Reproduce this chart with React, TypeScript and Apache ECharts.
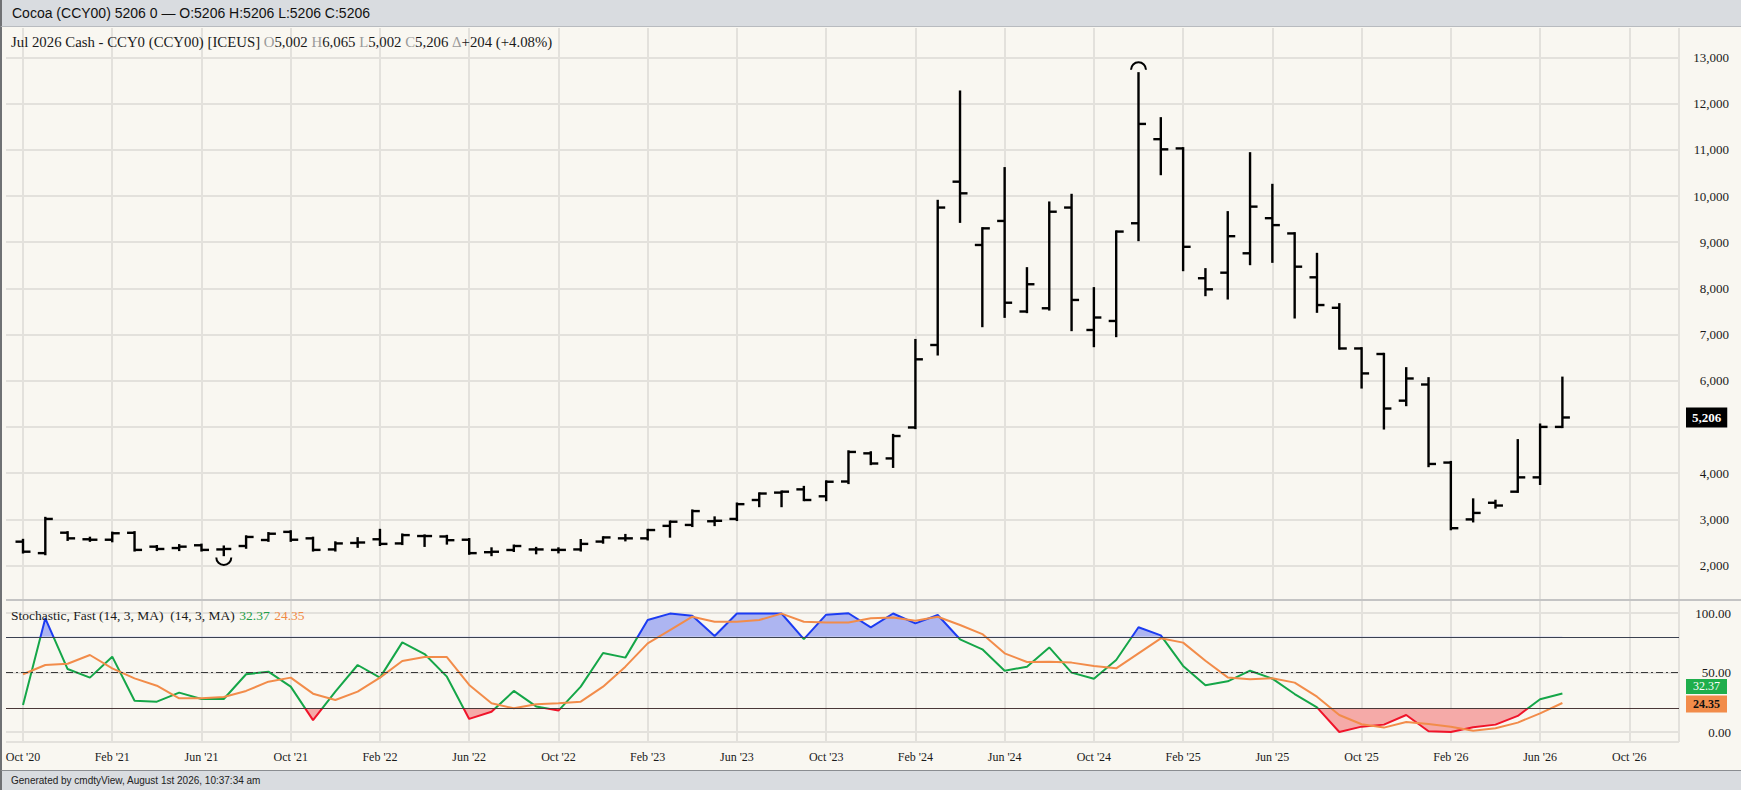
import React, { useEffect, useRef } from "react";
import * as echarts from "echarts";

// ---------- data ----------
const tickLabels = [
  "Oct '20", "Feb '21", "Jun '21", "Oct '21", "Feb '22", "Jun '22", "Oct '22",
  "Feb '23", "Jun '23", "Oct '23", "Feb '24", "Jun '24", "Oct '24", "Feb '25",
  "Jun '25", "Oct '25", "Feb '26", "Jun '26", "Oct '26",
];

// monthly bars, Oct 2020 .. Jul 2026
const opens = [
  2518, 2270, 2712, 2570, 2560, 2710, 2410, 2380, 2440, 2350,
  2424, 2554, 2730, 2590, 2350, 2490, 2570, 2480, 2640, 2630,
  2560, 2290, 2338, 2350, 2340, 2350, 2520, 2590, 2590, 2860,
  2880, 2960, 3010, 3420, 3580, 3650, 3500, 3820, 4430, 4320,
  4990, 6775, 10310, 8940, 9460, 7500, 7570, 9750, 7100, 7295,
  9410, 11230, 11030, 8220, 8340, 8760, 9520, 9190, 8240, 7580,
  6700, 6580, 5570, 5920, 4230, 3000, 3360, 3600, 3910, 5002,
];
const highs = [
  2554, 3030, 2720, 2600, 2710, 2720, 2420, 2440, 2450, 2410,
  2630, 2700, 2740, 2600, 2500, 2590, 2770, 2670, 2650, 2640,
  2570, 2370, 2430, 2380, 2370, 2550, 2610, 2660, 2770, 2950,
  3190, 3040, 3340, 3560, 3600, 3700, 3820, 4470, 4450, 4825,
  6880, 9892, 12258, 9300, 10600, 8434, 9856, 10022, 8002, 9230,
  12655, 11681, 11032, 8413, 9647, 10923, 10238, 9192, 8744, 7655,
  6703, 6580, 6270, 6053, 4240, 3430, 3400, 4712, 5050, 6065,
];
const lows = [
  2287, 2250, 2560, 2540, 2530, 2330, 2340, 2340, 2330, 2230,
  2390, 2540, 2540, 2330, 2330, 2410, 2450, 2470, 2430, 2480,
  2260, 2230, 2320, 2270, 2290, 2330, 2500, 2550, 2570, 2630,
  2860, 2880, 2990, 3290, 3290, 3420, 3420, 3790, 4200, 4140,
  4980, 6573, 9444, 7186, 7388, 7490, 7546, 7100, 6753, 6970,
  9048, 10476, 8398, 7857, 7785, 8528, 8579, 7374, 7497, 6700,
  5858, 4971, 5476, 4156, 2790, 2960, 3260, 3600, 3770, 5002,
];
const closes = [
  2301, 3010, 2590, 2560, 2700, 2340, 2360, 2410, 2340, 2360,
  2620, 2690, 2560, 2340, 2480, 2500, 2470, 2660, 2640, 2550,
  2270, 2300, 2424, 2350, 2340, 2470, 2610, 2590, 2770, 2950,
  3180, 2970, 3330, 3560, 3600, 3420, 3815, 4460, 4210, 4805,
  6465, 9750, 10058, 9300, 7690, 8090, 9660, 7750, 7370, 9230,
  11560, 11010, 8900, 7980, 9130, 9770, 9370, 8470, 7640, 6700,
  6160, 5400, 6050, 4200, 2810, 3140, 3300, 3910, 5002, 5206,
];

// Stochastic, Fast (14, 3, MA)
const stochK = [
  22.7, 95.5, 52.9, 45.7, 63.3, 26.3, 25.5, 33.1, 27.7, 27.7,
  48.5, 50.7, 38.1, 10.0, 33.9, 56.3, 45.7, 75.3, 65.5, 46.5,
  11.0, 17.0, 34.5, 21.5, 18.0, 38.1, 66.4, 62.5, 94.1, 99.5,
  97.7, 80.7, 99.6, 99.6, 99.6, 78.1, 98.6, 99.8, 88.0, 99.6,
  91.3, 98.3, 77.9, 69.5, 51.5, 54.9, 71.1, 49.9, 44.8, 60.5,
  88.0, 81.2, 55.5, 39.2, 42.6, 51.5, 44.8, 31.9, 20.7, 0.0,
  4.5, 6.2, 14.3, 0.6, 0.0, 4.0, 6.2, 13.5, 27.5, 32.37,
];
const stochD = [
  48.5, 56.3, 57.4, 64.7, 53.5, 45.1, 38.9, 28.3, 28.3, 29.4,
  34.5, 42.3, 45.7, 32.2, 26.9, 33.9, 45.7, 59.7, 63.0, 63.0,
  39.5, 24.1, 19.9, 23.3, 24.1, 25.5, 38.1, 54.9, 74.5, 85.7,
  96.9, 92.7, 92.7, 94.1, 99.5, 92.7, 92.1, 92.1, 95.5, 96.3,
  93.5, 96.9, 89.9, 82.3, 66.1, 58.8, 59.1, 58.3, 55.5, 53.5,
  66.1, 78.7, 75.1, 59.9, 45.9, 44.3, 45.1, 41.5, 29.7, 14.3,
  6.5, 3.7, 8.4, 6.7, 4.5, 1.1, 3.1, 7.9, 15.7, 24.35,
];

// ---------- layout / style ----------
const SERIF = '"Liberation Serif", "Times New Roman", serif';
const SANS = '"Liberation Sans", Arial, sans-serif';
const GRID_COLOR = "#e3e1dc";
const PLOT_L = 6;
const PLOT_R = 1679;
const X0 = 23;
const STEP = 22.31;
const XMIN = (PLOT_L - X0) / STEP;
const XMAX = (PLOT_R - X0) / STEP;
const PRICE_TOP = 57.4;
const PRICE_BOTTOM = 565.6;
const STOCH_TOP = 613;
const STOCH_BOTTOM = 732;
const SEP_Y = 600;
const AXIS_Y = 742;
const CLEAR = "rgba(0,0,0,0)";

const fmt = (v: number) => Math.round(v).toLocaleString("en-US");

function App() {
  const ref = useRef<HTMLDivElement>(null);

  useEffect(() => {
    if (!ref.current) return;
    const chart = echarts.init(ref.current, null, { renderer: "svg" });
    const n = closes.length;
    const last = n - 1;
    const lastClose = closes[last];
    const delta = lastClose - closes[last - 1];
    const pct = (delta / closes[last - 1]) * 100;

    let iMax = 0;
    let iMin = 0;
    highs.forEach((h, i) => { if (h > highs[iMax]) iMax = i; });
    lows.forEach((l, i) => { if (l < lows[iMin]) iMin = i; });

    const ohlc = opens.map((o, i) => [i, o, highs[i], lows[i], closes[i]]);
    const closeData = closes.map((c, i) => [i, c]);
    const kData = stochK.map((v, i) => [i, v]);
    const dData = stochD.map((v, i) => [i, v]);
    const kLast = stochK[stochK.length - 1];
    const dLast = stochD[stochD.length - 1];

    const plotW = PLOT_R - PLOT_L;
    const vW = PLOT_R - X0;
    const txt = (size: number, color: string) => ({
      fontFamily: SERIF, fontSize: size, color, fontWeight: "normal",
    });
    const hiddenLine = { color: CLEAR, width: 1, type: "solid" };

    const option: any = {
      animation: false,
      backgroundColor: "transparent",
      textStyle: { fontFamily: SERIF },
      title: [
        {
          left: 6,
          top: 29,
          text:
            `{n|Jul 2026 Cash - CCY0 (CCY00) [ICEUS] }{g|O}{n|${fmt(opens[last])} }` +
            `{g|H}{n|${fmt(highs[last])} }{g|L}{n|${fmt(lows[last])} }` +
            `{g|C}{n|${fmt(lastClose)} }{g|Δ}{n|${delta >= 0 ? "+" : ""}${fmt(delta)} (${delta >= 0 ? "+" : ""}${pct.toFixed(2)}%)}`,
          textStyle: {
            fontWeight: "normal",
            rich: { n: txt(14.8, "#1a1a1a"), g: txt(14.8, "#9a9a9a") },
          },
        },
        {
          left: 6,
          top: 601,
          text:
            `{n|Stochastic, Fast (14, 3, MA)  (14, 3, MA)} {k|${kLast.toFixed(2)}} {d|${dLast.toFixed(2)}}`,
          textStyle: {
            fontWeight: "normal",
            rich: { n: txt(13.5, "#1a1a1a"), k: txt(13.5, "#1f9e48"), d: txt(13.5, "#f08a45") },
          },
        },
      ],
      grid: [
        { left: PLOT_L, top: PRICE_TOP, width: plotW, height: PRICE_BOTTOM - PRICE_TOP },
        { left: X0, top: 28, width: vW, height: SEP_Y - 28 },
        { left: PLOT_L, top: STOCH_TOP, width: plotW, height: STOCH_BOTTOM - STOCH_TOP },
        { left: X0, top: SEP_Y, width: vW, height: AXIS_Y - SEP_Y },
      ],
      xAxis: [
        { gridIndex: 0, type: "value", min: XMIN, max: XMAX, show: false },
        {
          gridIndex: 1, type: "value", min: 0, max: XMAX, interval: 4,
          axisLine: { show: false }, axisTick: { show: false }, axisLabel: { show: false },
          splitLine: { show: true, lineStyle: { color: GRID_COLOR, width: 2 } },
        },
        { gridIndex: 2, type: "value", min: XMIN, max: XMAX, show: false },
        {
          gridIndex: 3, type: "value", min: 0, max: XMAX, interval: 4,
          axisLine: { show: false }, axisTick: { show: false },
          axisLabel: {
            margin: 9,
            fontFamily: SERIF,
            fontSize: 12,
            color: "#1a1a1a",
            formatter: (v: number) => {
              const r = Math.round(v);
              if (Math.abs(v - r) > 1e-6 || r % 4 !== 0) return "";
              return tickLabels[r / 4] ?? "";
            },
          },
          splitLine: { show: true, lineStyle: { color: GRID_COLOR, width: 2 } },
        },
      ],
      yAxis: [
        {
          gridIndex: 0, type: "value", min: 2000, max: 13000, interval: 1000, position: "right",
          axisLine: { show: false }, axisTick: { show: false },
          axisLabel: {
            align: "right", margin: 50, fontFamily: SERIF, fontSize: 13, color: "#1a1a1a",
            // the last-price box covers the tick label next to it
            formatter: (v: number) => (Math.abs(v - lastClose) < 400 ? "" : fmt(v)),
          },
          splitLine: { show: true, lineStyle: { color: GRID_COLOR, width: 2 } },
        },
        { gridIndex: 1, type: "value", min: 0, max: 1, show: false },
        {
          gridIndex: 2, type: "value", min: 0, max: 100, interval: 50, position: "right",
          axisLine: { show: false }, axisTick: { show: false },
          axisLabel: {
            align: "right", margin: 52, fontFamily: SERIF, fontSize: 13, color: "#1a1a1a",
            formatter: (v: number) => v.toFixed(2),
          },
          splitLine: { show: true, lineStyle: { color: GRID_COLOR, width: 2 } },
        },
        { gridIndex: 3, type: "value", min: 0, max: 1, show: false },
      ],
      visualMap: [
        {
          type: "piecewise", show: false, seriesIndex: 3, dimension: 1,
          pieces: [
            { lt: 20, color: CLEAR },
            { gte: 20, lte: 80, color: CLEAR },
            { gt: 80, color: "#adb5f1" },
          ],
        },
        {
          type: "piecewise", show: false, seriesIndex: 4, dimension: 1,
          pieces: [
            { lt: 20, color: "#f5aaa8" },
            { gte: 20, lte: 80, color: CLEAR },
            { gt: 80, color: CLEAR },
          ],
        },
        {
          type: "piecewise", show: false, seriesIndex: 5, dimension: 1,
          pieces: [
            { lt: 20, color: "#f0142a" },
            { gte: 20, lte: 80, color: "#15a648" },
            { gt: 80, color: "#1c3cf2" },
          ],
        },
      ],
      series: [
        {
          type: "custom",
          name: "price",
          coordinateSystem: "cartesian2d",
          xAxisIndex: 0,
          yAxisIndex: 0,
          data: ohlc,
          encode: { x: 0, y: [1, 2, 3, 4] },
          silent: true,
          renderItem: (_p: any, api: any) => {
            const i = api.value(0);
            const o = api.coord([i, api.value(1)]);
            const h = api.coord([i, api.value(2)]);
            const l = api.coord([i, api.value(3)]);
            const c = api.coord([i, api.value(4)]);
            const x = o[0];
            const style = { stroke: "#000", lineWidth: 2.4, fill: "none" };
            return {
              type: "group",
              children: [
                { type: "line", shape: { x1: x, y1: h[1] - 1.2, x2: x, y2: l[1] + 1.2 }, style },
                { type: "line", shape: { x1: x - 7.5, y1: o[1], x2: x, y2: o[1] }, style },
                { type: "line", shape: { x1: x, y1: c[1], x2: x + 7.5, y2: c[1] }, style },
              ],
            };
          },
        },
        {
          type: "custom",
          name: "extremes",
          coordinateSystem: "cartesian2d",
          xAxisIndex: 0,
          yAxisIndex: 0,
          silent: true,
          encode: { x: 0, y: 1 },
          data: [
            [iMax, highs[iMax], 1],
            [iMin, lows[iMin], -1],
          ],
          renderItem: (_p: any, api: any) => {
            const pt = api.coord([api.value(0), api.value(1)]);
            const up = api.value(2) > 0;
            return {
              type: "arc",
              shape: up
                ? { cx: pt[0], cy: pt[1] - 3.5, r: 7.5, startAngle: Math.PI, endAngle: Math.PI * 2 }
                : { cx: pt[0], cy: pt[1] + 2.5, r: 7.5, startAngle: 0, endAngle: Math.PI },
              style: { stroke: "#000", lineWidth: 2, fill: "none" },
            };
          },
        },
        {
          type: "line",
          name: "lastClose",
          xAxisIndex: 0,
          yAxisIndex: 0,
          data: closeData,
          showSymbol: false,
          silent: true,
          clip: false,
          z: 5,
          lineStyle: { color: CLEAR, width: 0 },
          markLine: {
            silent: true,
            symbol: "none",
            lineStyle: hiddenLine,
            data: [
              {
                yAxis: lastClose,
                lineStyle: hiddenLine,
                label: {
                  show: true, position: "end", distance: 7,
                  formatter: fmt(lastClose),
                  backgroundColor: "#000", color: "#fff",
                  fontFamily: SERIF, fontSize: 13, fontWeight: "bold",
                  padding: [4, 6, 3, 6],
                },
              },
            ],
          },
        },
        {
          type: "line",
          name: "fillHigh",
          xAxisIndex: 2,
          yAxisIndex: 2,
          data: kData,
          showSymbol: false,
          silent: true,
          lineStyle: { width: 0, opacity: 0 },
          areaStyle: { origin: 80, opacity: 1 },
        },
        {
          type: "line",
          name: "fillLow",
          xAxisIndex: 2,
          yAxisIndex: 2,
          data: kData,
          showSymbol: false,
          silent: true,
          lineStyle: { width: 0, opacity: 0 },
          areaStyle: { origin: 20, opacity: 1 },
        },
        {
          type: "line",
          name: "%K",
          xAxisIndex: 2,
          yAxisIndex: 2,
          data: kData,
          showSymbol: false,
          silent: true,
          lineStyle: { width: 2 },
        },
        {
          type: "line",
          name: "%D",
          xAxisIndex: 2,
          yAxisIndex: 2,
          data: dData,
          showSymbol: false,
          silent: true,
          clip: false,
          lineStyle: { width: 2, color: "#f28c4a" },
          itemStyle: { color: "#f28c4a" },
          markLine: {
            silent: true,
            symbol: "none",
            label: { show: false },
            data: [
              { yAxis: 80, lineStyle: { color: "#3b4150", width: 1.2, type: "solid" } },
              { yAxis: 20, lineStyle: { color: "#4a3838", width: 1.2, type: "solid" } },
              { yAxis: 50, lineStyle: { color: "#3a3a3a", width: 1, type: [7, 3, 2, 3] } },
              {
                yAxis: kLast,
                lineStyle: hiddenLine,
                label: {
                  show: true, position: "end", distance: 7, offset: [0, -7],
                  formatter: kLast.toFixed(2), backgroundColor: "#1fae4c", color: "#fff",
                  fontFamily: SERIF, fontSize: 12, padding: [2, 7, 1, 7],
                },
              },
              {
                yAxis: dLast,
                lineStyle: hiddenLine,
                label: {
                  show: true, position: "end", distance: 7, offset: [0, 1],
                  formatter: dLast.toFixed(2), backgroundColor: "#f28c4a", color: "#111",
                  fontFamily: SERIF, fontSize: 12, fontWeight: "bold", padding: [3, 7, 2, 7],
                },
              },
            ],
          },
        },
      ],
      graphic: [
        {
          type: "line", silent: true, z: 10,
          shape: { x1: PLOT_L, y1: SEP_Y, x2: 1741, y2: SEP_Y },
          style: { stroke: "#c4c4c4", lineWidth: 2 },
        },
        {
          type: "line", silent: true,
          shape: { x1: PLOT_L, y1: AXIS_Y, x2: PLOT_R, y2: AXIS_Y },
          style: { stroke: GRID_COLOR, lineWidth: 2 },
        },
      ],
    };

    chart.setOption(option);
    return () => chart.dispose();
  }, []);

  return (
    <div style={{ position: "fixed", left: 0, top: 0, width: 1741, height: 790, overflow: "hidden", background: "#f9f7f1" }}>
      <div
        style={{
          position: "absolute", left: 0, top: 0, width: 1741, height: 27,
          background: "#d9dce0", borderBottom: "1px solid #b8bbbf", boxSizing: "border-box",
          fontFamily: SANS, fontSize: 14, color: "#111", lineHeight: "26px", paddingLeft: 10,
          borderLeft: "2px solid #6f7174",
        }}
      >
        Cocoa (CCY00) 5206 0 — O:5206 H:5206 L:5206 C:5206
      </div>
      <div
        style={{
          position: "absolute", left: 0, top: 27, width: 1741, height: 743,
          background: "#f9f7f1", borderLeft: "2px solid #6f7174", boxSizing: "border-box",
        }}
      />
      <div
        style={{
          position: "absolute", left: 0, top: 770, width: 1741, height: 20,
          background: "#d9dce0", borderTop: "1px solid #8a8d91", boxSizing: "border-box",
          fontFamily: SANS, fontSize: 10, color: "#222", lineHeight: "19px", paddingLeft: 9,
          borderLeft: "2px solid #6f7174",
        }}
      >
        Generated by cmdtyView, August 1st 2026, 10:37:34 am
      </div>
      <div ref={ref} style={{ position: "absolute", left: 0, top: 0, width: 1741, height: 790 }} />
    </div>
  );
}

export default App;
